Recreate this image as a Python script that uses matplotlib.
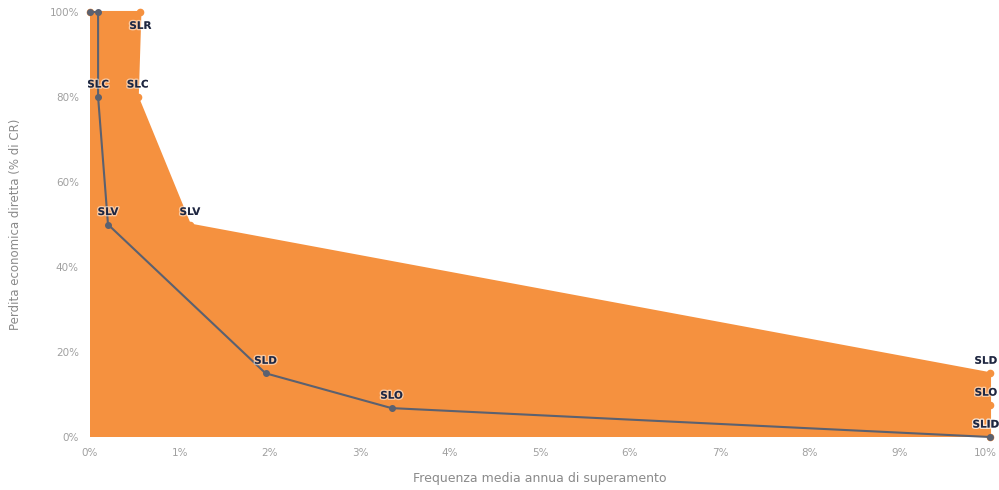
import matplotlib
matplotlib.use("Agg")
import matplotlib.pyplot as plt
import matplotlib.patheffects as pe
import matplotlib.transforms as mtransforms
from matplotlib.ticker import FuncFormatter

# Data (frequency in %, loss in %)
orange_x = [0.0, 0.56, 0.53, 1.11, 10.0, 10.0, 10.0]
orange_y = [100, 100, 80, 50, 15, 7.5, 0]
orange_labels = ["", "SLR", "SLC", "SLV", "SLD", "SLO", "SLID"]

gray_x = [0.0, 0.09, 0.09, 0.2, 1.95, 3.35, 10.0]
gray_y = [100, 100, 80, 50, 15, 6.8, 0]
gray_labels = ["", "", "SLC", "SLV", "SLD", "SLO", "SLID"]

x_ticks = [0, 1, 2, 3, 4, 5, 6, 7, 8, 9, 10]
y_ticks = [0, 20, 40, 60, 80, 100]

ORANGE = "#F5913F"
GRAY = "#5B6170"
LABEL = "#1E2640"

fig = plt.figure(figsize=(9.99, 4.9), dpi=100)
ax = fig.add_axes([90/999, 1-437/490, 900/999, 425/490])
ax.set_xlim(0, 10)
ax.set_ylim(0, 100)

# Orange area
ax.fill(orange_x + [0.0], orange_y + [0], color=ORANGE, lw=0, zorder=1)
ax.plot(orange_x, orange_y, color=ORANGE, lw=1.5, marker="o", ms=4.5, zorder=2, clip_on=False)

# Gray line
ax.plot(gray_x, gray_y, color=GRAY, lw=1.5, marker="o", ms=4, zorder=3, clip_on=False)

stroke = [pe.withStroke(linewidth=2, foreground=(1, 1, 1, 0.5))]

def lab(x, y, t, dy):
    if not t:
        return
    dx = -3 if x >= 10 else 0
    ax.annotate(t, (x, y), xytext=(dx, dy), textcoords="offset points",
                ha="center", va="center", fontsize=7.5, fontweight="bold",
                color=LABEL, zorder=5, path_effects=stroke, annotation_clip=False)

for x, y, t in zip(orange_x, orange_y, orange_labels):
    dy = -10 if t == "SLR" else 9
    lab(x, y, t, dy)
for x, y, t in zip(gray_x, gray_y, gray_labels):
    lab(x, y, t, 9)

for s in ax.spines.values():
    s.set_visible(False)
ax.set_xticks(x_ticks)
ax.set_yticks(y_ticks)
ax.xaxis.set_major_formatter(FuncFormatter(lambda v, p: f"{v:.0f}%"))
ax.yaxis.set_major_formatter(FuncFormatter(lambda v, p: f"{v:.0f}%"))
ax.tick_params(length=0, labelsize=7.5, labelcolor="#a0a0a0", pad=8)
ax.set_xlabel("Frequenza media annua di superamento", fontsize=9, color="#8a8a8a", labelpad=10)
ax.set_ylabel("Perdita economica diretta (% di CR)", fontsize=8.5, color="#8a8a8a")
ax.yaxis.set_label_coords(-0.075, 0.5)

# keep the last x tick label inside the figure
fig.canvas.draw()
last = ax.get_xticklabels()[-1]
last.set_transform(last.get_transform() + mtransforms.ScaledTranslation(-5/100, 0, fig.dpi_scale_trans))

fig.savefig("out.png", dpi=100)
